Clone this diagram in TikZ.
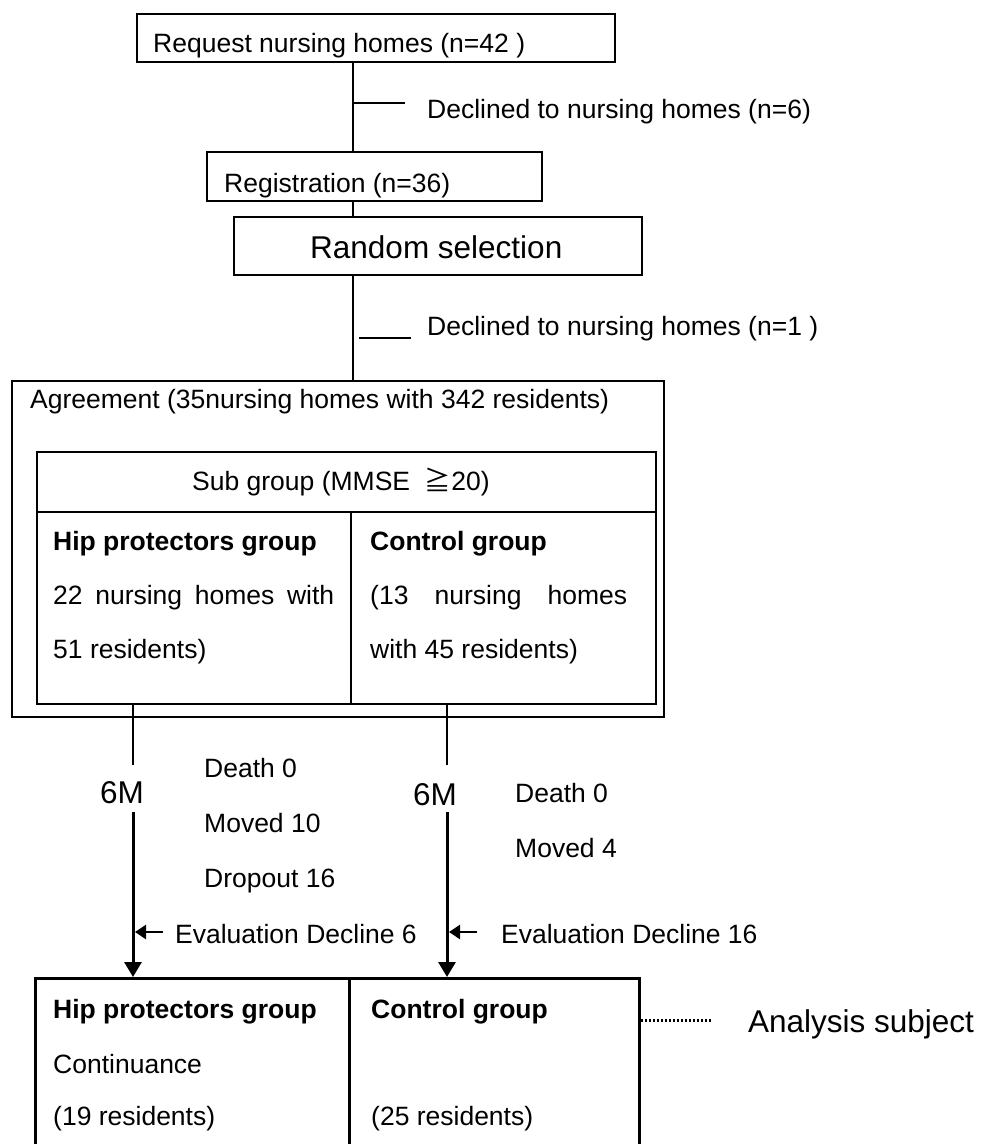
\documentclass[tikz,border=0pt]{standalone}
\usepackage{fontspec}
\setmainfont{Liberation Sans}
\newfontfamily\cjkfont{Noto Sans CJK JP}
\usetikzlibrary{arrows.meta}
\begin{document}
\begin{tikzpicture}[x=1pt,y=-1pt,
  txt/.style={inner sep=0pt,anchor=base west,font=\fontsize{26.5}{30}\selectfont},
  bigtxt/.style={inner sep=0pt,anchor=base west,font=\fontsize{31.5}{36}\selectfont},
  boldtxt/.style={inner sep=0pt,anchor=base west,font=\fontsize{26.5}{30}\selectfont\bfseries},
  boxnode/.style={draw,line width=1.5pt,inner sep=0pt,anchor=north west},
  ln/.style={line width=1.5pt},
  bigarrow/.style={line width=3pt,-{Triangle[length=15pt,width=17pt]}},
  smallarrow/.style={line width=2.5pt,-{Triangle[length=11pt,width=14pt]}},
]
\useasboundingbox (0,0) rectangle (987,1144);

% guide coordinates
\coordinate (spine) at (353,0);
\coordinate (colL) at (133,0);
\coordinate (colR) at (447,0);

% boxes
\node[boxnode,minimum width=478pt,minimum height=48pt] (req) at (136,13) {};
\node[boxnode,minimum width=335pt,minimum height=49pt] (reg) at (206,151) {};
\node[boxnode,minimum width=408pt,minimum height=58pt] (rnd) at (233,216) {};
\node[boxnode,minimum width=652pt,minimum height=336pt] (outer) at (11,380) {};
\node[boxnode,minimum width=619pt,minimum height=252pt] (inner) at (36,451) {};
\coordinate (hdL) at (36,512);
\coordinate (hdR) at (655,512);
\coordinate (cdT) at (351,512);
\draw[ln] (hdL) -- (hdR);
\draw[ln] (cdT) -- (cdT |- inner.south);
\node[boxnode,line width=3pt,minimum width=604pt,minimum height=220pt] (bot) at (34,977) {};
\coordinate (bdT) at (349,977);
\draw[line width=3pt] (bdT) -- ++(0,200);

% texts
\node[txt] (treq) at (153,52) {Request nursing homes (n=42 )};
\node[txt] (tdec1) at (427,118) {Declined to nursing homes (n=6)};
\node[txt] (treg) at (224,192) {Registration (n=36)};
\node[bigtxt] (trnd) at (310,258) {Random selection};
\node[txt] (tdec2) at (427,335) {Declined to nursing homes (n=1 )};
\node[txt] (tagr) at (30,408) {Agreement (35nursing homes with 342 residents)};
\node[txt] (tsub) at (192,490) {Sub group (MMSE \ {\cjkfont ≧}20)};
\node[boldtxt] (thip1) at (53,550) {Hip protectors group};
\node[txt] (thip2) at (53,604) {\makebox[281pt][s]{22 nursing homes with}};
\node[txt] (thip3) at (53,658) {51 residents)};
\node[boldtxt] (tcon1) at (370,550) {Control group};
\node[txt] (tcon2) at (370,604) {\makebox[257pt][s]{(13 nursing homes}};
\node[txt] (tcon3) at (370,658) {with 45 residents)};
\node[bigtxt] (m6L) at (100,803) {6M};
\node[bigtxt] (m6R) at (413,805) {6M};
\node[txt] (dL1) at (204,777) {Death 0};
\node[txt] (dL2) at (204,832) {Moved 10};
\node[txt] (dL3) at (204,887) {Dropout 16};
\node[txt] (dR1) at (515,802) {Death 0};
\node[txt] (dR2) at (515,857) {Moved 4};
\node[txt] (evL) at (175,943) {Evaluation Decline 6};
\node[txt] (evR) at (501,943) {Evaluation Decline 16};
\node[boldtxt] (bhip1) at (53,1018) {Hip protectors group};
\node[txt] (bhip2) at (53,1073) {Continuance};
\node[txt] (bhip3) at (53,1125) {(19 residents)};
\node[boldtxt] (bcon1) at (371,1018) {Control group};
\node[txt] (bcon3) at (371,1125) {(25 residents)};
\node[bigtxt] (tana) at (748,1032) {Analysis subject};

% connectors
\draw[ln] (req.south -| spine) -- (reg.north -| spine);
\coordinate (br1) at (353,103);
\coordinate (br1e) at (405,103);
\draw[ln] (br1) -- (br1e);
\draw[ln] (reg.south -| spine) -- (rnd.north -| spine);
\draw[ln] (rnd.south -| spine) -- (outer.north -| spine);
\coordinate (us1) at (359,338);
\coordinate (us2) at (411,338);
\draw[ln] (us1) -- (us2);

\coordinate (lTop) at (133,765);
\coordinate (lMid) at (133,812);
\coordinate (rTop) at (447,765);
\coordinate (rMid) at (447,812);
\draw[ln] (inner.south -| colL) -- (lTop);
\draw[ln] (inner.south -| colR) -- (rTop);
\draw[bigarrow] (lMid) -- (bot.north -| colL);
\draw[bigarrow] (rMid) -- (bot.north -| colR);

\coordinate (eL) at (163,932);
\coordinate (eLt) at (135,932);
\coordinate (eR) at (477,932);
\coordinate (eRt) at (449,932);
\draw[smallarrow] (eL) -- (eLt);
\draw[smallarrow] (eR) -- (eRt);

\coordinate (dot1) at (641,1020);
\coordinate (dot2) at (711,1020);
\draw[line width=3pt,dash pattern=on 2pt off 2pt] (dot1) -- (dot2);
\end{tikzpicture}
\end{document}
